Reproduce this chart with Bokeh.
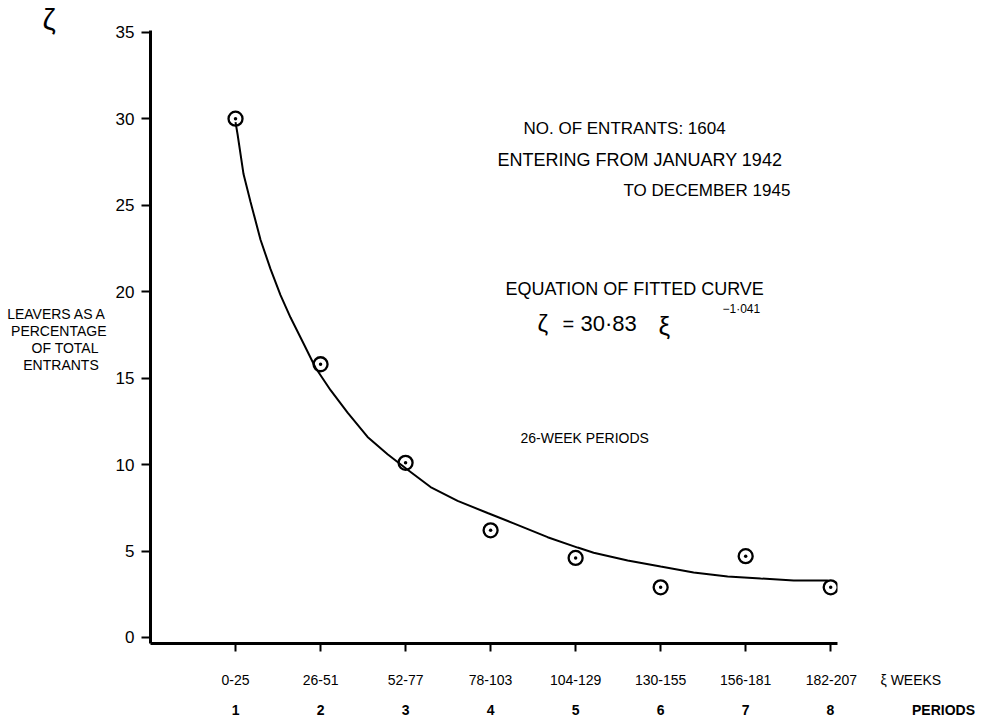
from bokeh.plotting import figure
from bokeh.models import Label, LinearAxis, FixedTicker, Range1d, Title
from bokeh.embed import file_html
from bokeh.resources import INLINE

# ---------------- data ----------------
periods = [1, 2, 3, 4, 5, 6, 7, 8]
week_ranges = ["0-25", "26-51", "52-77", "78-103", "104-129", "130-155", "156-181", "182-207"]
leavers_pct = [30.0, 15.8, 10.1, 6.2, 4.6, 2.9, 4.7, 2.9]

# hand-drawn fitted curve
curve_period = [1.000, 1.024, 1.094, 1.176, 1.294, 1.412, 1.529, 1.647, 1.800, 1.941,
                2.118, 2.318, 2.553, 2.788, 3.024, 3.294, 3.612, 3.965, 4.271, 4.671,
                5.024, 5.212, 5.612, 6.000, 6.388, 6.788, 7.176, 7.565, 7.965]
curve_pct = [29.8, 29.1, 26.8, 25.2, 23.0, 21.3, 19.8, 18.5, 17.0, 15.6,
             14.3, 13.0, 11.6, 10.6, 9.7, 8.7, 7.9, 7.2, 6.6, 5.8,
             5.2, 4.9, 4.45, 4.1, 3.76, 3.53, 3.41, 3.3, 3.3]

y_ticks = [0, 5, 10, 15, 20, 25, 30, 35]
y_label_lines = ["LEAVERS AS A", "PERCENTAGE", "OF TOTAL", "ENTRANTS"]
x_unit = "ξ WEEKS"
x_unit2 = "PERIODS"

FONT = "Liberation Sans"
NB = "\u00a0"

# ---------------- figure ----------------
W, H = 992, 727
BL, BR, BT, BB = 150, 155, 30, 84
X0, X1 = 0, 8.08
Y0, Y1 = -0.347, 35.1

p = figure(width=W, height=H, output_backend="svg", toolbar_location=None,
           x_range=Range1d(X0, X1), y_range=Range1d(Y0, Y1),
           x_axis_type=None, y_axis_type=None,
           min_border_left=BL, min_border_right=BR,
           min_border_top=BT, min_border_bottom=BB)
p.outline_line_color = None
p.background_fill_color = "white"
p.border_fill_color = "white"

FX0, FX1 = BL, W - BR
FY0, FY1 = BT, H - BB


def dx(px):
    return X0 + (px - FX0) / (FX1 - FX0) * (X1 - X0)


def dy(py):
    return round(Y0 + (FY1 - py) / (FY1 - FY0) * (Y1 - Y0), 3)


# y axis
yaxis = LinearAxis(ticker=FixedTicker(ticks=y_ticks),
                   axis_line_width=3, axis_line_color="black",
                   major_tick_out=9, major_tick_in=0, major_tick_line_width=2,
                   minor_tick_line_color=None,
                   major_label_standoff=7,
                   major_label_text_font=FONT,
                   major_label_text_font_size="17px",
                   major_label_text_color="black")
p.add_layout(yaxis, "left")

# y axis title block (horizontal lines of text beside the axis)
ylab_pos = [dy(313), dy(330), dy(347), dy(364)]
ylab_txt = [y_label_lines[0], y_label_lines[1],
            y_label_lines[2] + NB * 2, y_label_lines[3] + NB * 2]
yaxis_t = LinearAxis(ticker=FixedTicker(ticks=ylab_pos),
                     major_label_overrides={k: v for k, v in zip(ylab_pos, ylab_txt)},
                     axis_line_color=None, major_tick_line_color=None,
                     minor_tick_line_color=None, major_tick_out=0, major_tick_in=0,
                     major_label_standoff=6,
                     major_label_text_font=FONT,
                     major_label_text_font_size="14px",
                     major_label_text_color="black")
p.add_layout(yaxis_t, "left")

# x axis: week ranges (last one carries the unit)
xl = list(week_ranges)
xl[-1] = NB * 22 + xl[-1] + NB * 6 + x_unit
xaxis = LinearAxis(ticker=FixedTicker(ticks=periods),
                   major_label_overrides={k: v for k, v in zip(periods, xl)},
                   axis_line_width=3, axis_line_color="black",
                   major_tick_out=8, major_tick_in=0, major_tick_line_width=2,
                   minor_tick_line_color=None,
                   major_label_standoff=20,
                   major_label_text_font=FONT,
                   major_label_text_font_size="14px",
                   major_label_text_color="black")
p.add_layout(xaxis, "below")

# x axis: period numbers
pl = [str(k) for k in periods]
pl[-1] = NB * 36 + pl[-1] + NB * 20 + x_unit2
xaxis2 = LinearAxis(ticker=FixedTicker(ticks=periods),
                    major_label_overrides={k: v for k, v in zip(periods, pl)},
                    axis_line_color=None, major_tick_line_color=None,
                    minor_tick_line_color=None, major_tick_out=0, major_tick_in=0,
                    major_label_standoff=11,
                    major_label_text_font=FONT,
                    major_label_text_font_size="14px",
                    major_label_text_font_style="bold",
                    major_label_text_color="black")
p.add_layout(xaxis2, "below")

# zeta, top-left
zt = Title(text="ζ", align="left", offset=-108, text_font=FONT,
           text_font_size="30px", text_font_style="normal", text_color="black")
try:
    zt.standoff = -10
except Exception:
    zt.standoff = 0
p.add_layout(zt, "above")

# fitted curve and observed points
p.line(curve_period, curve_pct, line_width=2, line_color="black")
p.scatter(periods, leavers_pct, marker="circle_dot", size=14,
          fill_color=None, line_color="black", line_width=2.3)


# ---------------- text inside the frame ----------------
def txt(s, px, py, size, align="left", style="normal"):
    p.add_layout(Label(x=dx(px), y=dy(py), text=s, text_font=FONT,
                       text_font_size=f"{size}px", text_align=align,
                       text_baseline="middle", text_color="black",
                       text_font_style=style))


txt("NO. OF ENTRANTS: 1604", 523, 128, 17)
txt("ENTERING FROM JANUARY 1942", 497, 160, 18)
txt("TO DECEMBER 1945", 623, 190, 17)
txt("EQUATION OF FITTED CURVE", 505, 288, 18)
txt("ζ", 537, 323, 24)
txt("=", 562, 323, 20)
txt("30·83", 580, 323, 22)
txt("ξ", 658, 325, 26)
txt("−1·041", 722, 309, 12)
txt("26-WEEK PERIODS", 520, 437, 14)

open("out.html", "w").write(file_html(p, INLINE))
